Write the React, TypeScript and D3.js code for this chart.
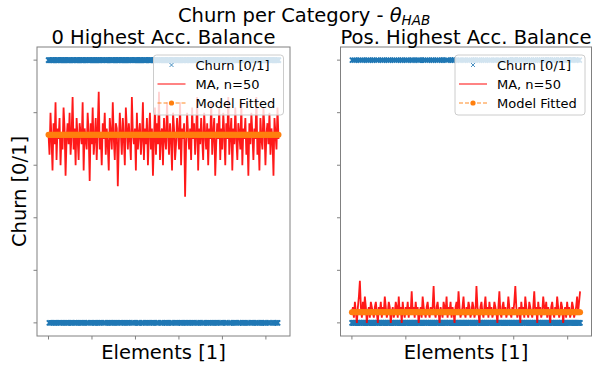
import React from "react";
import * as d3 from "d3";

// Moving average (n=50) of churn, one value per plotted step
const leftMA = [
  0.72,0.64,0.80,0.70,0.58,0.76,0.68,0.84,0.62,0.74,0.70,0.78,0.60,0.72,0.66,0.82,0.74,0.56,0.70,0.76,
  0.68,0.80,0.64,0.72,0.86,0.66,0.74,0.60,0.78,0.70,0.62,0.76,0.72,0.68,0.84,0.58,0.74,0.70,0.66,0.80,
  0.72,0.54,0.76,0.68,0.82,0.64,0.70,0.78,0.62,0.74,0.88,0.66,0.72,0.60,0.76,0.70,0.80,0.64,0.74,0.68,
  0.58,0.78,0.72,0.66,0.84,0.70,0.62,0.76,0.74,0.52,0.68,0.80,0.72,0.64,0.78,0.70,0.60,0.82,0.74,0.66,
  0.76,0.70,0.62,0.86,0.72,0.68,0.74,0.58,0.80,0.66,0.72,0.76,0.64,0.70,0.84,0.62,0.74,0.68,0.78,0.60,
  0.72,0.80,0.66,0.74,0.56,0.70,0.82,0.64,0.76,0.68,0.88,0.62,0.72,0.74,0.60,0.78,0.70,0.66,0.84,0.72,
  0.64,0.76,0.70,0.58,0.80,0.74,0.62,0.68,0.78,0.72,0.66,0.84,0.60,0.74,0.70,0.76,0.48,0.68,0.80,0.72,
  0.66,0.74,0.62,0.82,0.70,0.76,0.64,0.72,0.86,0.58,0.74,0.68,0.78,0.70,0.62,0.80,0.72,0.66,0.76,0.60,
  0.74,0.70,0.84,0.64,0.72,0.78,0.56,0.68,0.76,0.70,0.82,0.62,0.74,0.66,0.80,0.72,0.60,0.76,0.70,0.86,
  0.64,0.72,0.78,0.58,0.74,0.68,0.82,0.70,0.62,0.76,0.72,0.66,0.84,0.60,0.74,0.70,0.78,0.64,0.72,0.56,
  0.76,0.68,0.80,0.72,0.62,0.74,0.70,0.86,0.64,0.72,0.58,0.78,0.70,0.66,0.82,0.74,0.60,0.72,0.76,0.68,
  0.80,0.64,0.74,0.70,0.56,0.78,0.72,0.66,0.82,0.70,
];

const rightMA = [
  0.04,0.06,0.02,0.08,0.04,0.00,0.06,0.10,0.16,0.06,0.02,0.08,0.04,0.10,0.06,0.00,0.04,0.06,0.02,0.08,
  0.06,0.04,0.02,0.06,0.08,0.04,0.00,0.06,0.04,0.08,0.02,0.06,0.04,0.10,0.06,0.02,0.04,0.08,0.06,0.00,
  0.04,0.06,0.02,0.04,0.08,0.06,0.02,0.10,0.04,0.06,0.00,0.08,0.04,0.02,0.06,0.04,0.08,0.02,0.06,0.04,
  0.12,0.04,0.06,0.02,0.08,0.04,0.06,0.00,0.04,0.06,0.02,0.10,0.06,0.04,0.02,0.06,0.08,0.04,0.02,0.06,
  0.04,0.06,0.14,0.04,0.02,0.06,0.08,0.04,0.00,0.06,0.04,0.02,0.08,0.06,0.04,0.10,0.02,0.06,0.04,0.08,
  0.02,0.06,0.04,0.00,0.06,0.08,0.04,0.12,0.06,0.02,0.04,0.06,0.10,0.04,0.02,0.06,0.04,0.08,0.06,0.02,
  0.04,0.08,0.06,0.02,0.04,0.14,0.06,0.04,0.00,0.06,0.08,0.04,0.02,0.06,0.10,0.04,0.06,0.02,0.08,0.04,
  0.06,0.02,0.04,0.08,0.06,0.04,0.00,0.06,0.12,0.04,0.02,0.06,0.08,0.04,0.06,0.02,0.04,0.10,0.06,0.04,
  0.02,0.06,0.04,0.08,0.14,0.06,0.02,0.04,0.06,0.00,0.08,0.04,0.06,0.02,0.10,0.06,0.04,0.02,0.08,0.06,
  0.04,0.02,0.06,0.12,0.04,0.06,0.00,0.08,0.04,0.06,0.02,0.04,0.10,0.06,0.04,0.08,0.02,0.06,0.04,0.00,
  0.06,0.08,0.04,0.02,0.06,0.04,0.10,0.06,0.02,0.04,0.08,0.06,0.00,0.04,0.06,0.02,0.08,0.04,0.06,0.02,
  0.04,0.08,0.06,0.02,0.04,0.06,0.10,0.04,0.08,0.12,
];

// Churn flags (0/1) sampled along the elements
const leftChurn = [
  "11011101101110110101", "10111011011101101110", "11101101011101110110",
  "01101110110111011010", "11101101110110101110", "11011011101101110111",
  "01101110101101110110", "11101101101110110101", "10110111011010111011",
  "01110110111011011101", "11011010111011101101", "10111011011101011011",
  "11101011011101101101", "01110111010110111011", "10110110111011101011",
  "11011101011011011101", "01101111011010110111", "10111010110111011010",
  "11010111011101101110", "01111011010111010111", "10110101110110111011",
  "11011101101101011101", "01110110110111011011", "10101110111010111011",
  "11011011010111101101", "01110101110110111010", "11011110101101101110",
  "10110111011011010111", "01101011101110110111", "11101101011011101011",
].join("");

const rightChurn = [
  "01000010000100000100", "00100001000010000010", "00010000100000100001",
  "00000100010000010000", "10000100000100001000", "01000001000010000100",
  "00100000100001000001", "00001000010000010000", "10000010000100010000",
  "01000000100001000010", "00010000010000100000", "10000100001000001000",
  "00100000100010000010", "00001000001000010000", "01000010000010000100",
  "00010000100001000001", "00000100000100010000", "10000010000100000100",
  "00100001000001000010", "00001000010000100000", "01000001000010000100",
  "00010000100000100001", "00000100001000010000", "10000010000100000100",
  "00100000100001000010", "00001000010000010000", "01000001000100001000",
  "00010000100000100001", "00000100001000010000", "10000010000100000100",
].join("");

const leftFitted = 0.716;
const rightFitted = 0.04;
const leftCount = 5290;
const rightCount = 4230;

const yTicks = [0, 0.2, 0.4, 0.6, 0.8, 1.0];
const xTickStep = 1000;
const panelTitles = ["0 Highest Acc. Balance", "Pos. Highest Acc. Balance"];
const legendLabels = ["Churn [0/1]", "MA, n=50", "Model Fitted"];

const FONT = "DejaVu Sans, sans-serif";
const BLUE = "#1f77b4";
const RED = "#ff0000";
const ORANGE = "#ff7f0e";
const SPINE = "#808080";

const TOP = 47;
const BOTTOM = 336;

type PanelProps = {
  x0: number;
  x1: number;
  ma: number[];
  churn: string;
  fitted: number;
  count: number;
  title: string;
};

function Panel({ x0, x1, ma, churn, fitted, count, title }: PanelProps) {
  const x = d3.scaleLinear().domain([-0.05 * count, 1.05 * count]).range([x0, x1]);
  const y = d3.scaleLinear().domain([-0.05, 1.05]).range([BOTTOM, TOP]);

  // churn markers as "x" glyphs
  const s = 2.5;
  const churnStep = count / (churn.length - 1);
  let churnPath = "";
  for (let i = 0; i < churn.length; i++) {
    const cx = x(i * churnStep);
    const cy = y(churn[i] === "1" ? 1 : 0);
    churnPath += `M${cx - s},${cy - s}L${cx + s},${cy + s}M${cx - s},${cy + s}L${cx + s},${cy - s}`;
  }

  const maStep = count / (ma.length - 1);
  const maLine = d3
    .line<number>()
    .x((_, i) => x(i * maStep))
    .y((v) => y(v))(ma) as string;

  const fitLine = d3
    .line<number>()
    .x((_, i) => x(i * maStep))
    .y(() => y(fitted))(ma) as string;

  const xTicks = d3.range(0, count + 1, xTickStep);

  const lw = 130;
  const lh = 60;
  const lx = x1 - 6.5 - lw;
  const ly = TOP + 8;
  const rows = [ly + 10, ly + 29, ly + 48];
  const hx0 = lx + 4;
  const hx1 = lx + 32;
  const hxm = (hx0 + hx1) / 2;

  return (
    <g>
      <path d={churnPath} stroke={BLUE} strokeWidth={1.6} fill="none" />
      <path d={maLine} stroke={RED} strokeWidth={1.8} strokeOpacity={0.9} strokeLinejoin="bevel" fill="none" />
      <path d={fitLine} stroke={ORANGE} strokeWidth={1.5} strokeDasharray="5,2" strokeOpacity={0.6} fill="none" />
      {ma.map((_, i) => (
        <circle key={i} cx={x(i * maStep)} cy={y(fitted)} r={3} fill={ORANGE} />
      ))}

      <rect x={x0} y={TOP} width={x1 - x0} height={BOTTOM - TOP} fill="none" stroke={SPINE} strokeWidth={1} />
      {yTicks.map((t) => (
        <line key={t} x1={x0 - 3.5} x2={x0} y1={y(t)} y2={y(t)} stroke={SPINE} strokeWidth={1} />
      ))}
      {xTicks.map((t) => (
        <line key={t} x1={x(t)} x2={x(t)} y1={BOTTOM} y2={BOTTOM + 3.5} stroke={SPINE} strokeWidth={1} />
      ))}

      <g>
        <rect x={lx} y={ly} width={lw} height={lh} rx={3} fill="#ffffff" fillOpacity={0.8} stroke="#cccccc" strokeWidth={1} />
        <path
          d={`M${hxm - 2},${rows[0] - 2}L${hxm + 2},${rows[0] + 2}M${hxm - 2},${rows[0] + 2}L${hxm + 2},${rows[0] - 2}`}
          stroke={BLUE}
          strokeWidth={1}
          strokeOpacity={0.8}
        />
        <line x1={hx0} x2={hx1} y1={rows[1]} y2={rows[1]} stroke={RED} strokeOpacity={0.65} strokeWidth={1.5} />
        <line x1={hx0} x2={hx1} y1={rows[2]} y2={rows[2]} stroke={ORANGE} strokeOpacity={0.6} strokeWidth={1.5} strokeDasharray="4,2" />
        <circle cx={hxm} cy={rows[2]} r={2.6} fill={ORANGE} />
        {legendLabels.map((lab, i) => (
          <text key={lab} x={lx + 42} y={rows[i] + 4.7} fontFamily={FONT} fontSize={13} fill="#000">
            {lab}
          </text>
        ))}
      </g>

      <text x={(x0 + x1) / 2} y={44} textAnchor="middle" fontFamily={FONT} fontSize={19.5} fill="#000">
        {title}
      </text>
      <text x={(x0 + x1) / 2} y={359} textAnchor="middle" fontFamily={FONT} fontSize={19.5} fill="#000">
        Elements [1]
      </text>
    </g>
  );
}

export default function App() {
  return (
    <svg width={605} height={371} viewBox="0 0 605 371" style={{ display: "block", position: "absolute", left: 0, top: 0, background: "#fff" }}>
      <rect width={605} height={371} fill="#fff" />
      <text x={178} y={22} fontFamily={FONT} fontSize={19.5} fill="#000">
        Churn per Category -{" "}
        <tspan fontStyle="italic">θ</tspan>
        <tspan fontStyle="italic" fontSize={13.5} dy={3}>HAB</tspan>
      </text>
      <text transform="translate(26,191.5) rotate(-90)" textAnchor="middle" fontFamily={FONT} fontSize={19.5} fill="#000">
        Churn [0/1]
      </text>
      <Panel x0={37} x1={290} ma={leftMA} churn={leftChurn} fitted={leftFitted} count={leftCount} title={panelTitles[0]} />
      <Panel x0={340.5} x1={591.5} ma={rightMA} churn={rightChurn} fitted={rightFitted} count={rightCount} title={panelTitles[1]} />
    </svg>
  );
}
